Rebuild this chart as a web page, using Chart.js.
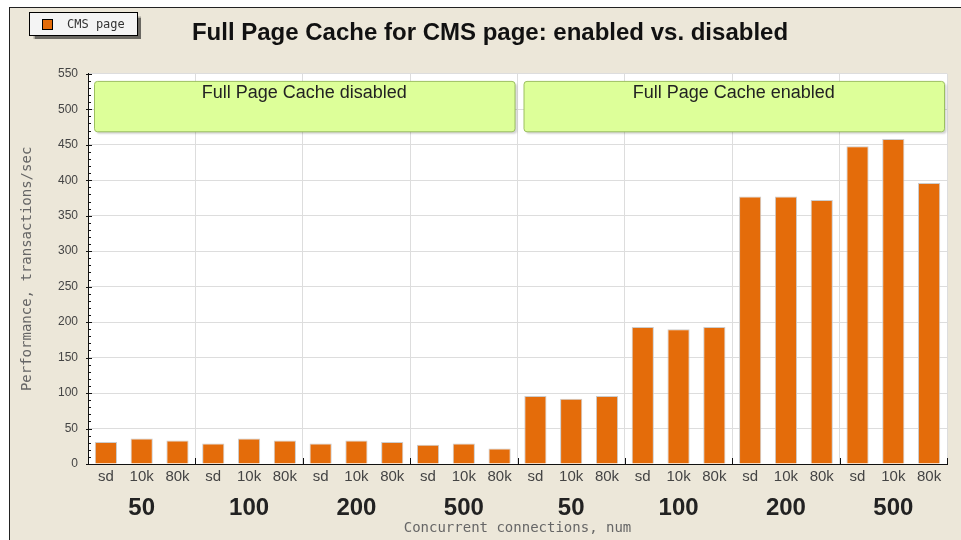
<!DOCTYPE html><html lang="en"><head><meta charset="utf-8">
<title>Full Page Cache for CMS page</title>
<script src="https://cdn.jsdelivr.net/npm/chart.js@4/dist/chart.umd.min.js"></script>
<style>
html, body {
  margin: 0;
  background: #fff;
}
#wrap {
  position: absolute;
  left: 9px;
  top: 7px;
  width: 952px;
  height: 533px;
  box-sizing: border-box;
  border-top: 1px solid #222;
  border-left: 1px solid #222;
  background: #ece7d9;
}
#box {
  position: relative;
  width: 951px;
  height: 532px;
}
</style>
</head><body>

<div id=wrap><div id=box><canvas id=myChart></canvas></div></div>

<script>
// data
const groups = ["50", "100", "200", "500", "50", "100", "200", "500"];
const subLabels = ["sd", "10k", "80k"];
const disabledValues = [31, 36, 33, 29, 36, 33, 29, 33, 31, 27, 29, 22];
const enabledValues = [96, 92, 96, 193, 190, 193, 377, 377, 372, 448, 458, 396];
const sectionLabels = ["Full Page Cache disabled", "Full Page Cache enabled"];
const sectionFirstBar = [0, 12];
const sectionLastBar = [11, 23];
const sectionTop = 540;
const sectionBottom = 469;

const labels = [];
groups.forEach(() => subLabels.forEach(s => labels.push(s)));
const values = disabledValues.concat(enabledValues);

const mono = "'DejaVu Sans Mono', monospace";
const sans = "'Liberation Sans', Arial, sans-serif";

// white plot area, green section boxes, inner ticks, legend box
const backPlugin = {
  id: "back",
  beforeDraw(chart) {
    const { ctx, chartArea: a } = chart;
    ctx.save();
    ctx.fillStyle = "#fff";
    ctx.fillRect(a.left, a.top, a.right - a.left, a.bottom - a.top);
    ctx.restore();
  },
  beforeDatasetsDraw(chart) {
    const { ctx } = chart;
    const x = chart.scales.x;
    const y = chart.scales.y;
    const half = (x.getPixelForValue(1) - x.getPixelForValue(0)) / 2;
    ctx.save();
    for (let i = 0; i < sectionLabels.length; i++) {
      const l = x.getPixelForValue(sectionFirstBar[i]) - half + 6;
      const r = x.getPixelForValue(sectionLastBar[i]) + half - 3;
      const t = y.getPixelForValue(sectionTop);
      const b = y.getPixelForValue(sectionBottom);
      ctx.shadowColor = "rgba(0,0,0,0.18)";
      ctx.shadowOffsetX = 2;
      ctx.shadowOffsetY = 2;
      ctx.shadowBlur = 2;
      ctx.beginPath();
      ctx.roundRect(l + 0.5, t + 0.5, r - l, b - t, 3);
      ctx.fillStyle = "#ddff99";
      ctx.fill();
      ctx.shadowColor = "transparent";
      ctx.strokeStyle = "#9cc060";
      ctx.lineWidth = 1;
      ctx.stroke();
      ctx.fillStyle = "#222";
      ctx.font = "18px " + sans;
      ctx.textAlign = "center";
      ctx.textBaseline = "middle";
      ctx.fillText(sectionLabels[i], (l + r) / 2, t + 12);
    }
    ctx.restore();
  },
  afterDraw(chart) {
    const { ctx } = chart;
    const y = chart.scales.y;
    const x2 = chart.scales.x2;
    ctx.save();
    ctx.strokeStyle = "#111";
    ctx.lineWidth = 1;
    // y ticks, drawn inward
    for (let v = y.min; v <= y.max; v += 10) {
      const py = Math.round(y.getPixelForValue(v)) + 0.5;
      const major = v % 50 === 0;
      ctx.beginPath();
      ctx.moveTo(y.right - (major ? 2 : 0), py);
      ctx.lineTo(y.right + (major ? 4 : 3), py);
      ctx.stroke();
    }
    // x ticks at group boundaries
    const w = (x2.right - x2.left) / groups.length;
    for (let i = 1; i <= groups.length; i++) {
      const px = Math.round(x2.left + i * w) + 0.5;
      ctx.beginPath();
      ctx.moveTo(px, chart.chartArea.bottom);
      ctx.lineTo(px, chart.chartArea.bottom - 6);
      ctx.stroke();
    }
    // legend box
    const ds = chart.data.datasets[0];
    ctx.shadowColor = "rgba(0,0,0,0.55)";
    ctx.shadowOffsetX = 3;
    ctx.shadowOffsetY = 3;
    ctx.shadowBlur = 1;
    ctx.fillStyle = "#f4f4f4";
    ctx.fillRect(19.5, 4.5, 108, 23);
    ctx.shadowColor = "transparent";
    ctx.strokeStyle = "#000";
    ctx.strokeRect(19.5, 4.5, 108, 23);
    ctx.fillStyle = ds.backgroundColor;
    ctx.fillRect(32.5, 11.5, 10, 10);
    ctx.strokeRect(32.5, 11.5, 10, 10);
    ctx.fillStyle = "#333";
    ctx.font = "12px " + mono;
    ctx.textAlign = "left";
    ctx.textBaseline = "middle";
    ctx.fillText(ds.label, 57, 17);
    ctx.restore();
  }
};

const chart = new Chart(myChart, {
  type: "bar",
  data: {
    labels,
    datasets: [{
      label: "CMS page",
      data: values,
      backgroundColor: "#e46c0a",
      borderColor: "#cccccc",
      borderWidth: 1,
      barPercentage: 0.62,
      categoryPercentage: 1,
    }],
  },
  options: {
    responsive: true,
    maintainAspectRatio: false,
    animation: false,
    layout: {
      padding: { left: 23, right: 14, top: 0, bottom: 0 },
    },
    plugins: {
      legend: { display: false },
      tooltip: { enabled: false },
      title: {
        display: true,
        text: "Full Page Cache for CMS page: enabled vs. disabled",
        color: "#111",
        font: { family: sans, size: 24, weight: "bold" },
        padding: { top: 11, bottom: 26 },
      },
    },
    scales: {
      x: {
        position: "bottom",
        grid: { display: false, drawTicks: false },
        border: { display: true, color: "#111" },
        ticks: {
          color: "#444",
          font: { family: sans, size: 15 },
          padding: 4,
          maxRotation: 0,
          autoSkip: false,
        },
        afterFit: (s) => { s.height = 22; },
      },
      x2: {
        type: "category",
        position: "bottom",
        labels: groups,
        offset: true,
        grid: { color: "#dddddd", offset: true, drawTicks: false },
        border: { display: false },
        ticks: {
          color: "#222",
          font: { family: sans, size: 24, weight: "bold" },
          padding: 8,
          maxRotation: 0,
        },
        title: {
          display: true,
          text: "Concurrent connections, num",
          color: "#666",
          font: { family: mono, size: 14 },
          padding: { top: 0, bottom: 3 },
        },
        afterFit: (s) => { s.height = 54; },
      },
      y: {
        min: 0,
        max: 550,
        ticks: {
          stepSize: 50,
          color: "#444",
          font: { family: sans, size: 12 },
          padding: 10,
        },
        grid: { color: "#dddddd", drawTicks: false },
        border: { display: true, color: "#111" },
        title: {
          display: true,
          text: "Performance, transactions/sec",
          color: "#666",
          font: { family: mono, size: 14 },
          padding: { top: -14, bottom: 0 },
        },
        afterFit: (s) => { s.width = 55; },
      },
    },
  },
  plugins: [backPlugin],
});
</script>

</body>
</html>
